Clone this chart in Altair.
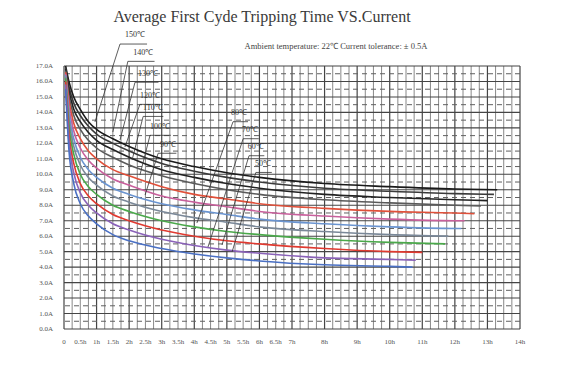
import altair as alt
import pandas as pd

# ---------------- text ----------------
title_text = "Average First Cyde Tripping Time VS.Current"
subtitle_text = "Ambient temperature: 22\u2103  Current tolerance: \u00b1 0.5A"

# ---------------- axes ----------------
x_tick_values = [0, 0.5, 1, 1.5, 2, 2.5, 3, 3.5, 4, 4.5, 5, 5.5, 6, 6.5, 7, 8, 9, 10, 11, 12, 13, 14]
x_tick_labels = ["0", "0.5h", "1h", "1.5h", "2h", "2.5h", "3h", "3.5h", "4h", "4.5h", "5h", "5.5h",
                 "6h", "6.5h", "7h", "8h", "9h", "10h", "11h", "12h", "13h", "14h"]
y_tick_values = [17, 16, 15, 14, 13, 12, 11, 10, 9, 8, 7, 6, 5, 4, 3, 2, 1, 0]
y_tick_labels = ["17.0A", "16.0A", "15.0A", "14.0A", "13.0A", "12.0A", "11.0A", "10.0A", "9.0A",
                 "8.0A", "7.0A", "6.0A", "5.0A", "4.0A", "3.0A", "2.0A", "1.0A", "0.0A"]

# ---------------- curves (time h -> current A) ----------------
curve_names = ["c1", "c2", "c3", "c4", "c5", "c6", "c7", "c8", "c9", "c10", "c11", "c12"]
curve_colors = ["#1a1a1a", "#3a3a3a", "#222222", "#5a5a5a", "#e0503a", "#c8609c",
                "#6a94d0", "#7a8898", "#4aa84a", "#e03a30", "#8a62b8", "#4a70c4"]
t_common = [0.05, 0.15, 0.3, 0.5, 0.75, 1, 1.5, 2, 3, 4, 5, 6, 8, 10, 12]
curve_times = [
    t_common + [13.3],
    t_common + [13.2],
    t_common + [13.0],
    t_common + [12.8],
    t_common + [12.6],
    t_common + [12.3],
    t_common + [12.2],
    t_common[:-1] + [11.8],
    t_common[:-1] + [11.7],
    t_common[:-1] + [11.0],
    t_common[:-1] + [10.8],
    t_common[:-1] + [10.7],
]
curve_values = [
    [17.0, 16.0, 15.0, 14.2, 13.4, 12.9, 12.3, 11.8, 11.0, 10.5, 10.1, 9.8, 9.4, 9.2, 9.05, 9.0],
    [16.9, 15.7, 14.6, 13.8, 13.1, 12.6, 12.0, 11.5, 10.7, 10.2, 9.8, 9.5, 9.1, 8.9, 8.75, 8.7],
    [16.8, 15.4, 14.2, 13.4, 12.7, 12.2, 11.6, 11.1, 10.3, 9.8, 9.4, 9.1, 8.7, 8.5, 8.35, 8.3],
    [16.7, 15.1, 13.8, 12.9, 12.2, 11.7, 11.1, 10.6, 9.9, 9.4, 9.0, 8.7, 8.35, 8.15, 8.0, 7.95],
    [16.6, 14.8, 13.3, 12.3, 11.5, 11.0, 10.3, 9.9, 9.2, 8.7, 8.4, 8.1, 7.8, 7.6, 7.5, 7.45],
    [16.5, 14.4, 12.8, 11.7, 10.9, 10.4, 9.7, 9.3, 8.6, 8.2, 7.9, 7.6, 7.3, 7.1, 7.0, 7.0],
    [16.4, 14.0, 12.3, 11.1, 10.3, 9.8, 9.1, 8.7, 8.1, 7.7, 7.4, 7.1, 6.8, 6.6, 6.5, 6.5],
    [16.3, 13.6, 11.8, 10.6, 9.8, 9.3, 8.6, 8.2, 7.6, 7.2, 6.9, 6.6, 6.3, 6.1, 6.0],
    [16.2, 13.2, 11.3, 10.0, 9.2, 8.7, 8.0, 7.6, 7.0, 6.6, 6.3, 6.1, 5.8, 5.6, 5.5],
    [16.0, 12.7, 10.7, 9.4, 8.6, 8.1, 7.4, 7.0, 6.4, 6.0, 5.7, 5.5, 5.2, 5.0, 4.95],
    [15.8, 12.2, 10.1, 8.8, 8.0, 7.5, 6.8, 6.4, 5.8, 5.4, 5.1, 4.9, 4.6, 4.5, 4.45],
    [15.5, 11.6, 9.4, 8.1, 7.3, 6.8, 6.1, 5.7, 5.2, 4.85, 4.6, 4.4, 4.15, 4.05, 4.0],
]

# ---------------- temperature call-outs ----------------
ann_labels = ["150\u2103", "140\u2103", "130\u2103", "120\u2103", "110\u2103", "100\u2103", "90\u2103",
              "80\u2103", "70\u2103", "60\u2103", "50\u2103"]
ann_text_t = [2.18, 2.43, 2.58, 2.64, 2.73, 2.95, 3.19, 5.37, 5.71, 5.89, 6.11]
ann_text_a = [18.8, 17.65, 16.29, 14.87, 14.09, 12.86, 11.70, 13.77, 12.67, 11.57, 10.47]
ann_start_t = [1.72, 1.96, 2.18, 2.33, 2.43, 2.64, 2.89, 5.19, 5.50, 5.68, 5.89]
ann_start_a = [18.42, 17.30, 15.95, 14.52, 13.74, 12.52, 11.36, 13.40, 12.30, 11.20, 10.12]
ann_end_t = [0.95, 1.50, 1.72, 1.87, 2.09, 2.33, 2.49, 4.08, 4.42, 4.85, 5.16]
ann_end_a = [13.38, 12.73, 12.22, 11.76, 10.92, 9.95, 8.66, 6.85, 5.30, 5.43, 4.98]
ann_under_end_t = [2.55, 2.78, 2.90, 2.95, 3.05, 3.28, 3.45, 5.65, 5.98, 6.15, 6.38]

# ---------------- build tables ----------------
rows = []
for n, ts, vs in zip(curve_names, curve_times, curve_values):
    for t, v in zip(ts, vs):
        rows.append({"name": n, "t": t, "a": v})
curves_df = pd.DataFrame(rows)

lead_rows = []
for i, lab in enumerate(ann_labels):
    lead_rows.append({"id": lab, "o": 0, "t": ann_end_t[i], "a": ann_end_a[i]})
    lead_rows.append({"id": lab, "o": 1, "t": ann_start_t[i], "a": ann_start_a[i]})
    lead_rows.append({"id": lab, "o": 2, "t": ann_under_end_t[i], "a": ann_start_a[i]})
lead_df = pd.DataFrame(lead_rows)
ann_df = pd.DataFrame({"label": ann_labels, "t": ann_text_t, "a": ann_text_a})

quarter = [i * 0.25 for i in range(57) if i % 4 != 0]
hours = [i for i in range(15)]
halfs = [i + 0.5 for i in range(17)]
ints = [i for i in range(18)]

W, H = 456, 263
xs = alt.Scale(domain=[0, 14], nice=False, zero=False)
ys = alt.Scale(domain=[0, 17], nice=False, zero=False)

vq = alt.Chart(pd.DataFrame({"t": quarter})).mark_rule(strokeWidth=0.9).encode(
    x=alt.X("t:Q", scale=xs, axis=None), color=alt.value("#7c7c7c"))
vh = alt.Chart(pd.DataFrame({"t": hours})).mark_rule(strokeWidth=1.2).encode(
    x=alt.X("t:Q", scale=xs, axis=None), color=alt.value("#454545"))
hd = alt.Chart(pd.DataFrame({"a": halfs})).mark_rule(strokeWidth=1, strokeDash=[5, 4]).encode(
    y=alt.Y("a:Q", scale=ys, axis=None), color=alt.value("#606060"))
hs = alt.Chart(pd.DataFrame({"a": ints})).mark_rule(strokeWidth=1.1).encode(
    y=alt.Y("a:Q", scale=ys, axis=None), color=alt.value("#454545"))

lines = alt.Chart(curves_df).mark_line(strokeWidth=1.6, interpolate="monotone").encode(
    x=alt.X("t:Q", scale=xs, axis=None),
    y=alt.Y("a:Q", scale=ys, axis=None),
    color=alt.Color("name:N", scale=alt.Scale(domain=curve_names, range=curve_colors), legend=None),
    detail="name:N",
)

leads = alt.Chart(lead_df).mark_line(strokeWidth=0.8).encode(
    x=alt.X("t:Q", scale=xs, axis=None),
    y=alt.Y("a:Q", scale=ys, axis=None),
    detail="id:N",
    order="o:Q",
    color=alt.value("#333333"),
)
ann = alt.Chart(ann_df).mark_text(font="Liberation Serif", fontSize=8,
                                  align="center", baseline="bottom", dy=1).encode(
    x=alt.X("t:Q", scale=xs, axis=None),
    y=alt.Y("a:Q", scale=ys, axis=None),
    text="label:N",
    color=alt.value("#333333"),
)

ylab = alt.Chart(pd.DataFrame({"a": y_tick_values, "l": y_tick_labels})).mark_text(
    font="Liberation Serif", fontSize=7, align="right", baseline="middle").encode(
    x=alt.value(-11), y=alt.Y("a:Q", scale=ys, axis=None), text="l:N", color=alt.value("#555555"))
xlab = alt.Chart(pd.DataFrame({"t": x_tick_values, "l": x_tick_labels})).mark_text(
    font="Liberation Serif", fontSize=7, align="center", baseline="middle").encode(
    x=alt.X("t:Q", scale=xs, axis=None), y=alt.value(H + 13), text="l:N", color=alt.value("#555555"))

title = alt.Chart(pd.DataFrame({"s": [title_text]})).mark_text(
    font="Liberation Serif", fontSize=16, align="center", baseline="middle").encode(
    x=alt.value(198), y=alt.value(-49), text="s:N", color=alt.value("#3a3a3a"))
subtitle = alt.Chart(pd.DataFrame({"s": [subtitle_text]})).mark_text(
    font="Liberation Serif", fontSize=8.5, align="center", baseline="middle").encode(
    x=alt.value(272), y=alt.value(-20), text="s:N", color=alt.value("#444444"))

chart = alt.layer(vq, vh, hd, hs, lines, leads, ann, ylab, xlab, title, subtitle).properties(
    width=W, height=H,
    autosize=alt.AutoSizeParams(type="none"),
    padding={"left": 56, "top": 58, "right": 41, "bottom": 30},
    background="white",
).configure_view(stroke=None)

chart.save("out.html", embed_options={"renderer": "svg", "actions": False})
